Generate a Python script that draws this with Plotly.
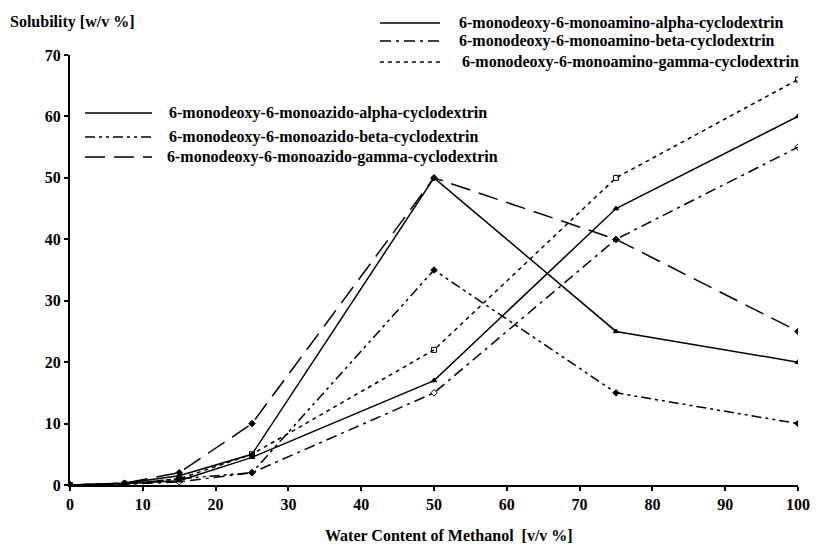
import plotly.graph_objects as go

# Water content of methanol [v/v %]
water = [0, 7.5, 15, 25, 50, 75, 100]

# Solubility [w/v %] of each cyclodextrin derivative
amino_alpha = [0, 0.2, 0.7, 4.5, 17, 45, 60]
amino_beta = [0, 0.1, 0.5, 2, 15, 40, 55]
amino_gamma = [0, 0.2, 1.0, 5, 22, 50, 66]
azido_alpha = [0, 0.3, 1.5, 5, 50, 25, 20]
azido_beta = [0, 0.2, 1.0, 2, 35, 15, 10]
azido_gamma = [0, 0.3, 2.0, 10, 50, 40, 25]

names = [
    "6-monodeoxy-6-monoamino-alpha-cyclodextrin",
    "6-monodeoxy-6-monoamino-beta-cyclodextrin",
    "6-monodeoxy-6-monoamino-gamma-cyclodextrin",
    "6-monodeoxy-6-monoazido-alpha-cyclodextrin",
    "6-monodeoxy-6-monoazido-beta-cyclodextrin",
    "6-monodeoxy-6-monoazido-gamma-cyclodextrin",
]
x_ticks = [0, 10, 20, 30, 40, 50, 60, 70, 80, 90, 100]
y_ticks = [0, 10, 20, 30, 40, 50, 60, 70]

series = [amino_alpha, amino_beta, amino_gamma, azido_alpha, azido_beta, azido_gamma]
dashes = [
    "solid",
    "11px,5px,3px,5px",
    "4px,4px",
    "solid",
    "10px,4px,3px,4px,3px,4px",
    "20px,9px",
]
symbols = ["triangle-up", "diamond-open", "square-open", "triangle-up", "diamond", "diamond"]

FONT = "Liberation Serif, Times New Roman, serif"
W, H = 821, 551
L, R, T, B = 70, 23, 55, 66

fig = go.Figure()
for name, ys, dash, sym in zip(names, series, dashes, symbols):
    fig.add_trace(go.Scatter(
        x=water, y=ys, name=name, mode="lines+markers",
        line=dict(color="black", width=1.5, dash=dash),
        marker=dict(symbol=sym, size=5, color="black", line=dict(color="black", width=1)),
        showlegend=False,
    ))


def px(x):
    return (x - L) / (W - L - R)


def py(y):
    return (H - B - y) / (H - T - B)


# Key drawn as short line samples with labels, in two blocks
legend_rows = [
    (names[0], dashes[0], 380, 440, 23, 457),
    (names[1], dashes[1], 380, 440, 41, 457),
    (names[2], dashes[2], 380, 440, 62, 460),
    (names[3], dashes[3], 85, 152, 113, 167),
    (names[4], dashes[4], 85, 152, 137, 167),
    (names[5], dashes[5], 85, 152, 157, 165),
]
shapes = []
annotations = []
text_font = dict(family=FONT, size=16, color="black", weight="bold")
for text, dash, x0, x1, y, tx in legend_rows:
    shapes.append(dict(
        type="line", xref="paper", yref="paper",
        x0=px(x0), x1=px(x1), y0=py(y), y1=py(y),
        line=dict(color="black", width=1.5, dash=dash),
    ))
    annotations.append(dict(
        text=text, xref="paper", yref="paper", x=px(tx), y=py(y),
        xanchor="left", yanchor="middle", showarrow=False, font=text_font,
    ))

annotations.append(dict(
    text="Solubility [w/v %]", xref="paper", yref="paper", x=px(8), y=py(22),
    xanchor="left", yanchor="middle", showarrow=False, font=text_font,
))
annotations.append(dict(
    text="Water Content of Methanol  [v/v %]", xref="paper", yref="paper",
    x=px(449), y=py(535), xanchor="center", yanchor="middle", showarrow=False,
    font=text_font,
))

fig.update_layout(
    width=W, height=H,
    margin=dict(l=L, r=R, t=T, b=B),
    paper_bgcolor="white", plot_bgcolor="white",
    shapes=shapes, annotations=annotations,
    showlegend=False,
)
fig.update_xaxes(
    range=[0, 100], tickvals=x_ticks, ticks="outside", ticklen=4, tickwidth=1.5,
    tickcolor="black", showline=True, linecolor="black", linewidth=2,
    showgrid=False, zeroline=False,
    tickfont=dict(family=FONT, size=16, color="black", weight="bold"),
)
fig.update_yaxes(
    range=[0, 70], tickvals=y_ticks, ticks="outside", ticklen=4, tickwidth=1.5,
    tickcolor="black", showline=True, linecolor="black", linewidth=2,
    showgrid=False, zeroline=False,
    tickfont=dict(family=FONT, size=16, color="black", weight="bold"),
)

fig.write_html("out.html")
